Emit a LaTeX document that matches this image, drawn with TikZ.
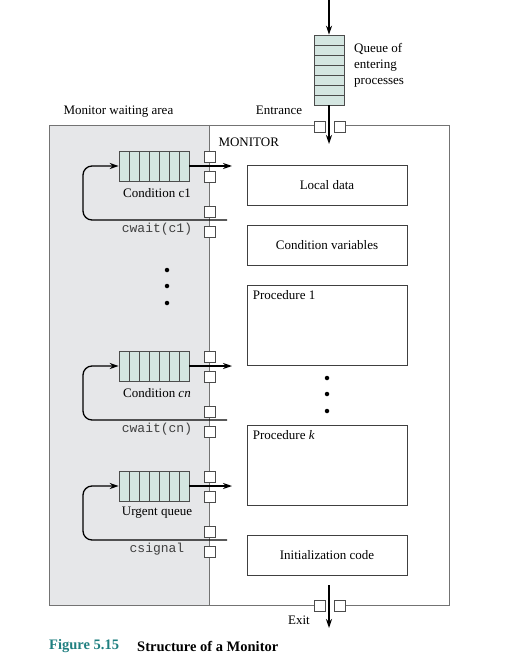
\documentclass[tikz,border=0pt]{standalone}
\usepackage{fontspec}
\setmainfont{Liberation Serif}
\setmonofont{Liberation Mono}
\usetikzlibrary{arrows.meta}
\usetikzlibrary{positioning}
\definecolor{waitgray}{HTML}{E6E7E9}
\definecolor{qfill}{HTML}{D4E6E1}
\definecolor{figteal}{HTML}{1F7F80}

\begin{document}
\begin{tikzpicture}[x=1pt,y=-1pt,
  every node/.style={font=\fontsize{13}{16}\selectfont},
  port/.style={draw=black!70,fill=white,minimum size=11pt,inner sep=0pt,line width=0.6pt},
  codebox/.style={draw=black!75,minimum width=160pt,inner sep=0pt,line width=0.7pt},
  cell/.style={draw=black!70,fill=qfill,inner sep=0pt,line width=0.6pt},
  flow/.style={line width=1.3pt,-{Stealth[length=9pt,width=6pt]}},
  loopline/.style={line width=1.3pt,rounded corners=9pt,-{Stealth[length=9pt,width=6pt]}},
  dot/.style={circle,fill=black,inner sep=0pt,minimum size=4.5pt}]
\useasboundingbox (0,0) rectangle (510,663);
% waiting area and monitor outline
\fill[waitgray] (49,125) rectangle (209,605);
\draw[black!55,line width=0.8pt] (314,125) -- (49,125) -- (49,605) -- (314,605);
\draw[black!55,line width=0.8pt] (345,125) -- (449,125) -- (449,605) -- (345,605);
\draw[black!55,line width=0.8pt] (209,125) -- (209,605);
\node[anchor=west] (waitlbl) at (60,112) {Monitor waiting area};
\node[anchor=west] (monlbl) at (215,142) {MONITOR};
% queue of entering processes
\node[cell,minimum width=30pt,minimum height=70pt] (entq) at (329,70) {};
\foreach \y in {45,55,...,95}
  \draw[black!70,line width=0.6pt] (314,\y) -- (344,\y);
\node[anchor=north west,align=left,inner sep=0pt] (entlbl) at (354,43) {Queue of\\entering\\processes};
\coordinate (intop) at (329,0);
\coordinate (inend) at (329,144);
\draw[flow] (intop) -- (entq.north);
\node[port] (entl) at (319.5,126.5) {};
\node[port] (entr) at (339.5,126.5) {};
\draw[flow] (entq.south) -- (inend);
\node (entrlbl) at (279,110) {Entrance};
% condition queues and urgent queue
\foreach \T/\nm/\lab/\call in {151/c1/{Condition c1}/{cwait(c1)},
    351/cn/{Condition \textit{cn}}/{cwait(cn)},
    471/urg/{Urgent queue}/{csignal}} {
  \node[cell,minimum width=70pt,minimum height=30pt] (\nm) at (154,\T+15) {};
  \foreach \x in {129,139,...,179}
    \draw[black!70,line width=0.6pt] (\x,\T) -- (\x,\T+30);
  \node (\nm-lbl) at (157,\T+42) {\lab};
  \node[font=\fontsize{13}{15}\selectfont\ttfamily,text=black!75] (\nm-call) at (157,\T+78) {\call};
  \node[port] (\nm-p1) at (209.5,\T+5.5) {};
  \node[port] (\nm-p2) at (209.5,\T+25.5) {};
  \node[port] (\nm-p3) at (209.5,\T+60.5) {};
  \node[port] (\nm-p4) at (209.5,\T+80.5) {};
  \coordinate (\nm-out) at (232,\T+15);
  \coordinate (\nm-back) at (227,\T+69);
  \draw[flow] (\nm.east) -- (\nm-out);
  \draw[loopline] (\nm-back) -- (83,\T+69) -- (83,\T+15) -- (\nm.west);
}
\node[dot] (ld1) at (167,270) {};
\node[dot] (ld2) at (167,286) {};
\node[dot] (ld3) at (167,303) {};
% monitor contents
\node[codebox,minimum height=40pt] (locdata) at (327,185) {Local data};
\node[codebox,minimum height=40pt] (condvars) at (327,245) {Condition variables};
\node[codebox,minimum height=80pt] (proc1) at (327,325) {};
\node[below right=6pt and 6pt of proc1.north west,inner sep=0pt] (proc1lbl) {Procedure 1};
\node[dot] (rd1) at (327,378) {};
\node[dot] (rd2) at (327,394) {};
\node[dot] (rd3) at (327,411) {};
\node[codebox,minimum height=80pt] (prock) at (327,465) {};
\node[below right=6pt and 6pt of prock.north west,inner sep=0pt] (proclbl) {Procedure \textit{k}};
\node[codebox,minimum height=40pt] (initcode) at (327,555) {Initialization code};
% exit
\node[port] (exl) at (319.5,605.5) {};
\node[port] (exr) at (339.5,605.5) {};
\coordinate (exitstart) at (329,585);
\coordinate (exitend) at (329,628);
\draw[flow] (exitstart) -- (exitend);
\node (exitlbl) at (299,620) {Exit};
% caption
\node[anchor=west,inner sep=0pt,font=\fontsize{14.5}{17}\selectfont\bfseries,text=figteal] (fignum) at (49,646) {Figure 5.15};
\node[anchor=west,inner sep=0pt,font=\fontsize{14.5}{17}\selectfont\bfseries] (figtitle) at (137,646) {Structure of a Monitor};
\end{tikzpicture}
\end{document}
